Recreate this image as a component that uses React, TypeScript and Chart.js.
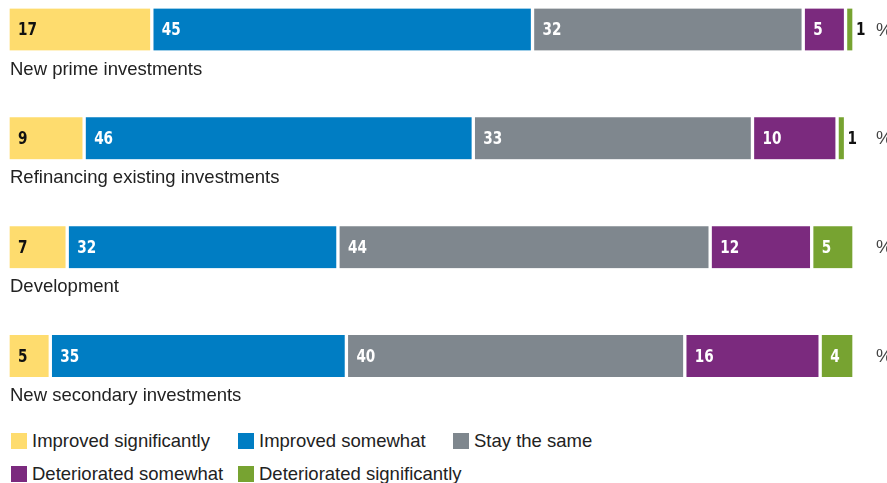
import React, { useEffect, useRef } from "react";
import { Chart, registerables } from "chart.js";

Chart.register(...registerables);

const categories = [
  "New prime investments",
  "Refinancing existing investments",
  "Development",
  "New secondary investments",
];
const seriesNames = [
  "Improved significantly",
  "Improved somewhat",
  "Stay the same",
  "Deteriorated somewhat",
  "Deteriorated significantly",
];
const improvedSignificantly = [17, 9, 7, 5];
const improvedSomewhat = [45, 46, 32, 35];
const stayTheSame = [32, 33, 44, 40];
const deterioratedSomewhat = [5, 10, 12, 16];
const deterioratedSignificantly = [1, 1, 5, 4];
const seriesColors = ["#FEDC6E", "#007DC3", "#7F878E", "#7B2A7E", "#77A331"];
const labelColors = ["#111111", "#ffffff", "#ffffff", "#ffffff", "#ffffff"];
const unitLabel = "%";

const seriesValues = [
  improvedSignificantly,
  improvedSomewhat,
  stayTheSame,
  deterioratedSomewhat,
  deterioratedSignificantly,
];

const valueFont = "bold 18px 'Liberation Sans Narrow', 'DejaVu Sans Condensed', sans-serif";
const textFont = "18.5px 'Liberation Sans', Arial, sans-serif";

function drawValue(ctx: any, text: string, x: number, y: number) {
  ctx.save();
  ctx.translate(x, y);
  ctx.scale(0.84, 1);
  ctx.fillText(text, 0, 0);
  ctx.restore();
}

const overlayPlugin = {
  id: "overlay",
  afterDatasetsDraw(chart: any) {
    const ctx = chart.ctx;
    ctx.save();
    chart.data.datasets.forEach((ds: any, di: number) => {
      const meta = chart.getDatasetMeta(di);
      meta.data.forEach((bar: any, i: number) => {
        const v = ds.data[i];
        const start = Math.min(bar.base, bar.x);
        const end = Math.max(bar.base, bar.x);
        ctx.font = valueFont;
        ctx.textBaseline = "middle";
        ctx.textAlign = "left";
        if (end - start < 22) {
          ctx.fillStyle = "#111111";
          drawValue(ctx, String(v), end + 2, bar.y + 1);
        } else {
          ctx.fillStyle = labelColors[di];
          drawValue(ctx, String(v), start + 10, bar.y + 1);
        }
      });
    });
    const meta0 = chart.getDatasetMeta(0);
    meta0.data.forEach((bar: any, i: number) => {
      ctx.font = textFont;
      ctx.fillStyle = "#222222";
      ctx.textAlign = "left";
      ctx.textBaseline = "alphabetic";
      ctx.fillText(categories[i], 10, bar.y + 45);
      ctx.fillStyle = "#444444";
      ctx.textBaseline = "middle";
      ctx.fillText(unitLabel, 876, bar.y + 1);
    });
    ctx.restore();
  },
};

export default function App() {
  const ref = useRef<HTMLCanvasElement>(null);
  useEffect(() => {
    document.body.style.margin = "0";
    const chart = new Chart(ref.current as HTMLCanvasElement, {
      type: "bar",
      data: {
        labels: categories,
        datasets: seriesValues.map((vals, i) => ({
          label: seriesNames[i],
          data: vals,
          backgroundColor: seriesColors[i],
          borderColor: "#ffffff",
          borderWidth: { left: 2, right: 2, top: 0, bottom: 0 },
          borderSkipped: false,
          barThickness: 42,
          clip: false as any,
        })),
      },
      options: {
        indexAxis: "y",
        responsive: false,
        animation: false,
        layout: { padding: { top: 29.5, bottom: 54, left: 8, right: 33 } },
        scales: {
          x: { stacked: true, min: 0, max: 100, display: false },
          y: { stacked: true, offset: false, display: false },
        },
        plugins: { legend: { display: false }, tooltip: { enabled: false } },
      },
      plugins: [overlayPlugin],
    } as any);
    return () => chart.destroy();
  }, []);

  const legendPos = [
    { x: 11, y: 433 },
    { x: 238, y: 433 },
    { x: 453, y: 433 },
    { x: 11, y: 466 },
    { x: 238, y: 466 },
  ];

  return (
    <div style={{ position: "relative", width: 887, height: 483, overflow: "hidden", background: "#fff" }}>
      <canvas ref={ref} width={887} height={410} style={{ position: "absolute", left: 0, top: 0 }} />
      {seriesNames.map((name, i) => (
        <div
          key={name}
          style={{
            position: "absolute",
            left: legendPos[i].x,
            top: legendPos[i].y,
            height: 16,
            display: "flex",
            alignItems: "center",
            whiteSpace: "nowrap",
            fontFamily: "'Liberation Sans', Arial, sans-serif",
            fontSize: 18.5,
            color: "#222",
          }}
        >
          <span style={{ display: "inline-block", width: 16, height: 16, background: seriesColors[i], marginRight: 5, flex: "none" }} />
          <span>{name}</span>
        </div>
      ))}
    </div>
  );
}
